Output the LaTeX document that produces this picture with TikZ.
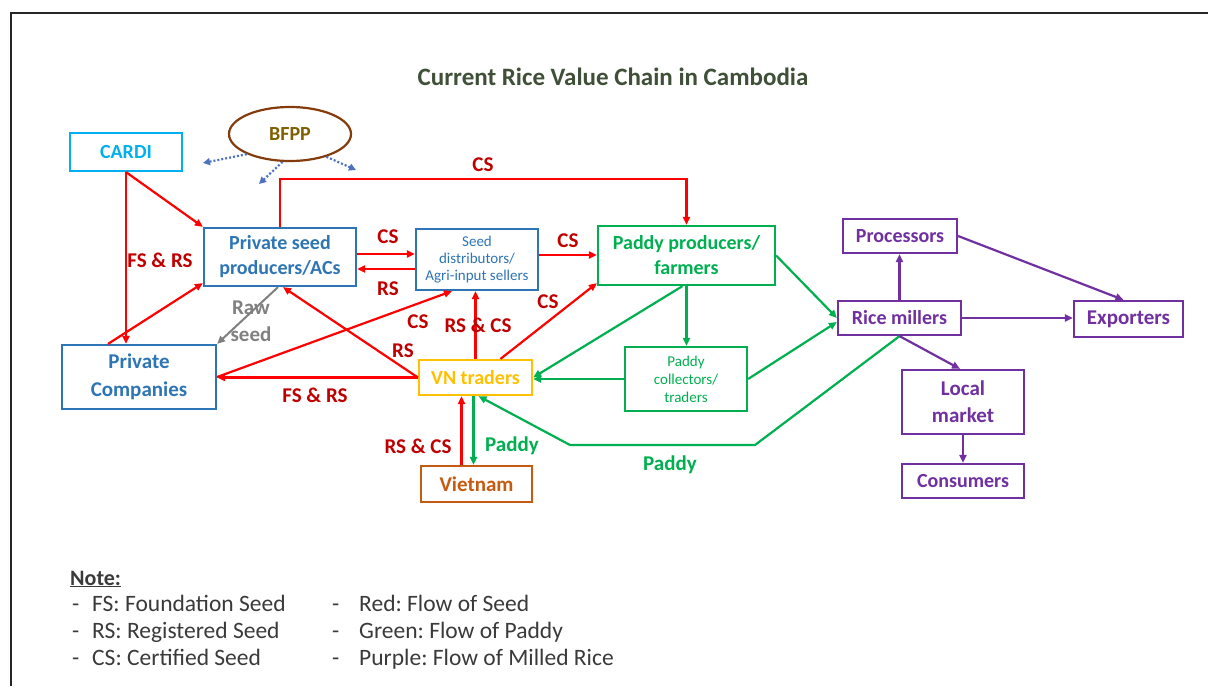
\documentclass[tikz,border=0pt]{standalone}
\usepackage{fontspec}
\setmainfont{Carlito}
\usetikzlibrary{arrows.meta,shapes.geometric,calc}
\frenchspacing

\definecolor{cardiC}{HTML}{00B0F0}
\definecolor{seedBlue}{HTML}{2E75B6}
\definecolor{paddyGreen}{HTML}{00B050}
\definecolor{ricePurple}{HTML}{7030A0}
\definecolor{seedRed}{HTML}{FF0000}
\definecolor{labRed}{HTML}{C00000}
\definecolor{vnGold}{HTML}{FFC000}
\definecolor{vietBrown}{HTML}{C55A11}
\definecolor{bfppBrown}{HTML}{843C0C}
\definecolor{bfppText}{HTML}{7F6000}
\definecolor{dotBlue}{HTML}{4F72C0}
\definecolor{rawGray}{HTML}{808080}
\definecolor{titleC}{HTML}{3F4F38}
\definecolor{noteGray}{HTML}{3A3A3A}

\tikzset{
  box/.style={draw, line width=2.2pt, fill=white, inner sep=0pt, align=center,
    font=\bfseries\fontsize{20}{25}\selectfont},
  smallbox/.style={box, font=\fontsize{15}{17}\selectfont},
  lbl/.style={font=\bfseries\fontsize{21}{25}\selectfont, text=labRed, inner sep=0pt},
  grnlbl/.style={lbl, text=paddyGreen},
  tip/.style={-{Triangle[length=8pt,width=7pt]}},
  seedflow/.style={draw=seedRed, line width=2.2pt, tip},
  paddyflow/.style={draw=paddyGreen, line width=2.2pt, tip},
  riceflow/.style={draw=ricePurple, line width=2.2pt, tip},
  rawflow/.style={draw=rawGray, line width=2pt, tip},
  bfppdot/.style={draw=dotBlue, line width=2.2pt, dash pattern=on 2pt off 2pt, -{Triangle[length=7pt,width=7pt]}},
  notetext/.style={font=\fontsize{23.5}{27}\selectfont, text=noteGray, anchor=base west, inner sep=0pt}
}

\begin{document}
\begin{tikzpicture}[x=1pt,y=-1pt]
\useasboundingbox (0,0) rectangle (1208,686);
\fill[white] (0,0) rectangle (1208,686);

% page frame
\draw[line width=2pt, black!85] (1208,13) -- (11,13) -- (11,686);

% title
\node[font=\bfseries\fontsize{25}{30}\selectfont, text=titleC] (title) at (613,77)
  {Current Rice Value Chain in Cambodia};

% actors
\node[box, draw=cardiC, text=cardiC, minimum width=112pt, minimum height=38pt] (cardi) at (126,152) {CARDI};
\node[ellipse, draw=bfppBrown, line width=2.2pt, fill=white, text=bfppText, inner sep=0pt,
  minimum width=122pt, minimum height=54pt, font=\bfseries\fontsize{20}{25}\selectfont] (bfpp) at (290,134) {BFPP};
\node[box, draw=seedBlue, text=seedBlue, minimum width=152pt, minimum height=58pt] (pseed) at (280,257)
  {Private seed\\producers/ACs};
\node[smallbox, draw=seedBlue, text=seedBlue, minimum width=122pt, minimum height=61pt] (sdist) at (477,259.5)
  {Seed\\distributors/\\Agri-input sellers};
\node[box, draw=paddyGreen, text=paddyGreen, minimum width=177pt, minimum height=59pt] (paddyP) at (686.5,255.5)
  {Paddy producers/\\farmers};
\node[box, draw=seedBlue, text=seedBlue, minimum width=154pt, minimum height=64pt,
  font=\bfseries\fontsize{21}{28}\selectfont] (pcomp) at (139,377) {Private\\Companies};
\node[box, draw=vnGold, text=vnGold, minimum width=113pt, minimum height=35pt] (vnt) at (475.5,377.5) {VN traders};
\node[smallbox, draw=paddyGreen, text=paddyGreen, minimum width=122pt, minimum height=64pt,
  font=\fontsize{15}{18}\selectfont] (coll) at (686,379) {Paddy\\collectors/\\traders};
\node[box, draw=vietBrown, text=vietBrown, minimum width=111pt, minimum height=36pt,
  font=\bfseries\fontsize{21}{25}\selectfont] (viet) at (476.5,484) {Vietnam};
\node[box, draw=ricePurple, text=ricePurple, minimum width=114pt, minimum height=34pt] (proc) at (900,236) {Processors};
\node[box, draw=ricePurple, text=ricePurple, minimum width=123pt, minimum height=34pt] (mill) at (899.5,318) {Rice millers};
\node[box, draw=ricePurple, text=ricePurple, minimum width=109pt, minimum height=36pt,
  font=\bfseries\fontsize{21}{25}\selectfont] (exp) at (1128.5,319) {Exporters};
\node[box, draw=ricePurple, text=ricePurple, minimum width=122pt, minimum height=64pt,
  font=\bfseries\fontsize{21}{27}\selectfont] (local) at (963,402) {Local\\market};
\node[box, draw=ricePurple, text=ricePurple, minimum width=122pt, minimum height=34pt] (cons) at (963,481) {Consumers};

% BFPP support (dotted)
\coordinate (d1) at (203,163);
\coordinate (d2) at (259,184);
\coordinate (d3) at (356,170);
\draw[bfppdot] (bfpp.205) -- (d1);
\draw[bfppdot] (bfpp.255) -- (d2);
\draw[bfppdot] (bfpp.328) -- (d3);

% seed flows (red)
\draw[seedflow] (cardi.south) -- (pseed.north west);
\draw[seedflow] (cardi.south) -- (cardi.south |- pcomp.north);
\draw[seedflow] ([xshift=-31pt]pcomp.north) -- ([yshift=4pt]pseed.south west);
\draw[seedflow] (pseed.north) -- ++(0,-48) -| (paddyP.north);
\draw[seedflow] ([yshift=3pt]pseed.east) -- ([yshift=3pt]pseed.east -| sdist.west);
\draw[seedflow] ([yshift=-12pt]pseed.east -| sdist.west) -- ([yshift=-12pt]pseed.east);
\draw[seedflow] ([yshift=4.5pt]sdist.east) -- ([yshift=4.5pt]sdist.east -| paddyP.west);
\draw[seedflow] (vnt.west) -- ([xshift=3pt]pseed.south);
\draw[seedflow] (vnt.west) -- (vnt.west -| pcomp.east);
\draw[seedflow] (pcomp.east) -- ([xshift=-25pt]sdist.south);
\draw[seedflow] (vnt.north) -- (vnt.north |- sdist.south);
\draw[seedflow] ([xshift=25pt]vnt.north) -- ([yshift=3pt]paddyP.south west);
\draw[seedflow] ([xshift=-15pt]viet.north) -- ([xshift=-15pt]viet.north |- vnt.south);

% raw seed (grey)
\draw[rawflow] ([xshift=-2pt]pseed.south) -- (pcomp.north east);

% paddy flows (green)
\draw[paddyflow] ([xshift=-2pt]vnt.south) -- ([xshift=-2pt]vnt.south |- viet.north);
\draw[paddyflow] (paddyP.east) -- (mill.west);
\draw[paddyflow] (paddyP.south) -- (paddyP.south |- coll.north);
\draw[paddyflow] ([xshift=-4pt]paddyP.south) -- (vnt.east);
\draw[paddyflow] (coll.west) -- (coll.west -| vnt.east);
\draw[paddyflow] (coll.east) -- ([yshift=-4pt]mill.west);
\coordinate (pb1) at (755,445);
\coordinate (pb2) at (570,445);
\draw[paddyflow] (mill.south) -- (pb1) -- (pb2) -- ([xshift=3pt]vnt.south);

% milled rice flows (purple)
\draw[riceflow] (mill.north) -- (mill.north |- proc.south);
\draw[riceflow] (proc.east) -- ([xshift=-5pt]exp.north);
\draw[riceflow] (mill.east) -- (mill.east -| exp.west);
\draw[riceflow] (mill.south) -- ([xshift=-3pt]local.north);
\draw[riceflow] (local.south) -- (cons.north);

% flow labels
\node[lbl] (l1) at (483,165) {CS};
\node[lbl] (l2) at (160,260) {FS \& RS};
\node[lbl] (l3) at (388,237) {CS};
\node[lbl] (l4) at (388,289) {RS};
\node[lbl] (l5) at (568,241) {CS};
\node[lbl] (l6) at (418,322) {CS};
\node[lbl] (l7) at (478,325) {RS \& CS};
\node[lbl] (l8) at (403,351) {RS};
\node[lbl] (l9) at (548,302) {CS};
\node[lbl] (l10) at (315,395) {FS \& RS};
\node[lbl] (l11) at (418,446) {RS \& CS};
\node[grnlbl] (l12) at (512,446) {Paddy};
\node[grnlbl] (l13) at (670,465) {Paddy};
\node[lbl, text=rawGray, align=center, font=\bfseries\fontsize{21}{27}\selectfont] (l14) at (251,321) {Raw\\seed};

% legend
\node[notetext, font=\bfseries\fontsize{22}{26}\selectfont] (note) at (70,585) {\underline{Note:}};
\node[notetext] (k1d) at (72,611) {-};
\node[notetext] (k1) at (92,611) {FS: Foundation Seed};
\node[notetext] (k2d) at (72,638) {-};
\node[notetext] (k2) at (92,638) {RS: Registered Seed};
\node[notetext] (k3d) at (72,665) {-};
\node[notetext] (k3) at (92,665) {CS: Certified Seed};
\node[notetext] (k4d) at (332,611) {-};
\node[notetext] (k4) at (359,611) {Red: Flow of Seed};
\node[notetext] (k5d) at (332,638) {-};
\node[notetext] (k5) at (359,638) {Green: Flow of Paddy};
\node[notetext] (k6d) at (332,665) {-};
\node[notetext] (k6) at (359,665) {Purple: Flow of Milled Rice};
\end{tikzpicture}
\end{document}
